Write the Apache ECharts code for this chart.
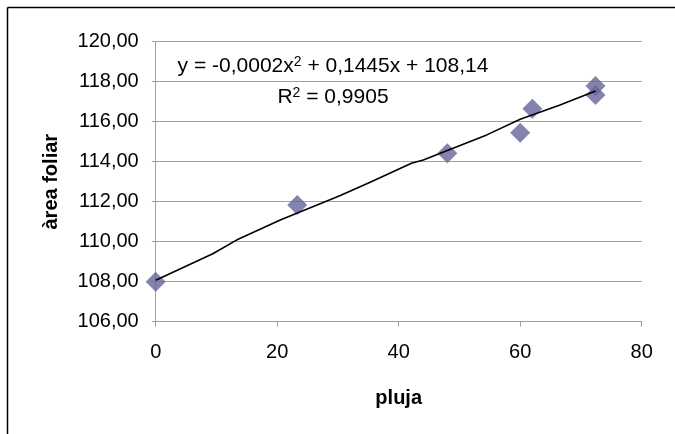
<!DOCTYPE html>
<html><head><meta charset="utf-8">
<script src="https://cdn.jsdelivr.net/npm/echarts@6/dist/echarts.min.js"></script>
<style>html,body{margin:0;padding:0;background:#fff}#c{width:675px;height:434px}</style>
</head><body><div id="c"></div>
<script>
const plujaValues = [0, 23.3, 48, 60, 62, 72.4, 72.4];
const areaValues = [108.0, 111.83, 114.42, 115.45, 116.65, 117.79, 117.34];
const trendX = [0, 9.4, 13.3, 20.5, 30.3, 35.3, 42.1, 44.05, 47.9, 54.5, 60, 66.55, 72.4];
const trendY = [108.07, 109.4, 110.08, 111.09, 112.3, 112.97, 113.92, 114.09, 114.55, 115.34, 116.12, 116.84, 117.54];
const equationParts = ['y = -0,0002x', '2', ' + 0,1445x + 108,14'];
const r2Parts = ['R', '2', ' = 0,9905'];

const fam = '"Liberation Sans", Arial, sans-serif';
const richStyles = {
  a: {fontFamily: fam, fontSize: 21, color: '#000', lineHeight: 22},
  s: {fontFamily: fam, fontSize: 14, color: '#000', verticalAlign: 'top', lineHeight: 22}
};
function richText(p) { return '{a|' + p[0] + '}{s|' + p[1] + '}{a|' + p[2] + '}'; }

const chart = echarts.init(document.getElementById('c'), null, {renderer: 'canvas'});
chart.setOption({
  animation: false,
  backgroundColor: '#fff',
  grid: {left: 155.7, right: 33.3, top: 41.7, bottom: 112.3},
  xAxis: {
    type: 'value', min: 0, max: 80, interval: 20,
    name: 'pluja', nameLocation: 'middle', nameGap: 67,
    nameTextStyle: {fontFamily: fam, fontSize: 20, fontWeight: 'bold', color: '#000'},
    axisLine: {show: true, onZero: false, lineStyle: {color: '#a0a0a0', width: 1}},
    axisTick: {show: true, length: 5, lineStyle: {color: '#a0a0a0'}},
    axisLabel: {fontFamily: fam, fontSize: 20, color: '#000', margin: 21},
    splitLine: {show: false}
  },
  yAxis: {
    type: 'value', min: 106, max: 120, interval: 2,
    name: 'àrea foliar', nameLocation: 'middle', nameGap: 94,
    nameTextStyle: {fontFamily: fam, fontSize: 20, fontWeight: 'bold', color: '#000'},
    axisLine: {show: true, lineStyle: {color: '#a0a0a0', width: 1}},
    axisTick: {show: true, length: 4, lineStyle: {color: '#a0a0a0'}},
    axisLabel: {fontFamily: fam, fontSize: 20, color: '#000', margin: 17,
      formatter: v => v.toFixed(2).replace('.', ',')},
    splitLine: {show: true, lineStyle: {color: '#a0a0a0', width: 1}}
  },
  series: [
    {
      type: 'scatter', symbol: 'diamond', symbolSize: [20, 20],
      itemStyle: {color: '#646498'},
      data: plujaValues.map((x, i) => [x, areaValues[i]]), z: 2
    },
    {
      type: 'line', showSymbol: false, symbol: 'none',
      lineStyle: {color: '#000', width: 1.6},
      data: trendX.map((x, i) => [x, trendY[i]]), z: 3
    }
  ],
  graphic: [
    {type: 'line', shape: {x1: 7.5, y1: 7.5, x2: 675, y2: 7.5}, style: {stroke: '#000', lineWidth: 1.5}},
    {type: 'line', shape: {x1: 7.5, y1: 7.5, x2: 7.5, y2: 434}, style: {stroke: '#000', lineWidth: 1.5}},
    {type: 'text', x: 333, y: 66, style: {text: richText(equationParts), rich: richStyles, align: 'center', verticalAlign: 'middle'}},
    {type: 'text', x: 333, y: 97, style: {text: richText(r2Parts), rich: richStyles, align: 'center', verticalAlign: 'middle'}}
  ]
});
</script></body></html>
